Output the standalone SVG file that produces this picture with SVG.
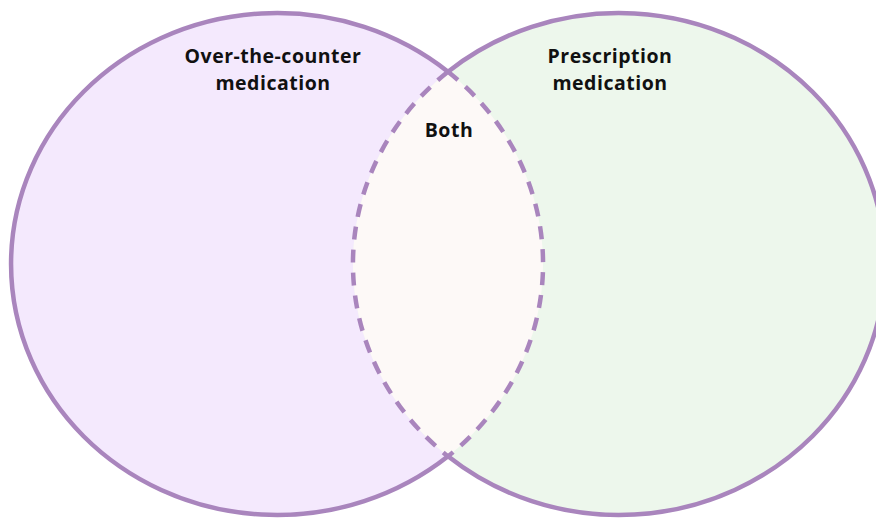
<svg xmlns="http://www.w3.org/2000/svg" width="876" height="518" viewBox="0 0 876 518">
  <style>
    .outline { fill: none; stroke: #a985bd; stroke-width: 4.5; }
    .dashed { stroke-dasharray: 13 10; }
    .label { font-family: "Open Sans", "Liberation Sans", sans-serif; font-weight: 700; font-size: 19.5px; letter-spacing: 0.5px; fill: #111111; text-anchor: middle; }
  </style>
  <rect width="876" height="518" fill="#ffffff"/>
  <g id="otc">
    <ellipse cx="277" cy="264" rx="266" ry="251" fill="#f4e9fd"/>
  </g>
  <g id="prescription">
    <ellipse cx="619" cy="264" rx="266" ry="251" fill="#edf7ec"/>
  </g>
  <g id="both">
    <path d="M 448 71.7 A 266 251 0 0 1 448 456.3 A 266 251 0 0 1 448 71.7 Z" fill="#fdf9f7"/>
  </g>
  <g id="connectors">
    <path class="outline" d="M 448 71.7 A 266 251 0 1 0 448 456.3"/>
    <path class="outline" d="M 448 71.7 A 266 251 0 1 1 448 456.3"/>
    <path class="outline dashed" d="M 448 71.7 A 266 251 0 0 1 448 456.3 A 266 251 0 0 1 448 71.7 Z"/>
  </g>
  <g id="labels">
    <text class="label" x="273" y="63">Over-the-counter</text>
    <text class="label" x="273" y="90">medication</text>
    <text class="label" x="610" y="63">Prescription</text>
    <text class="label" x="610" y="90">medication</text>
    <text class="label" x="449" y="137">Both</text>
  </g>
</svg>
